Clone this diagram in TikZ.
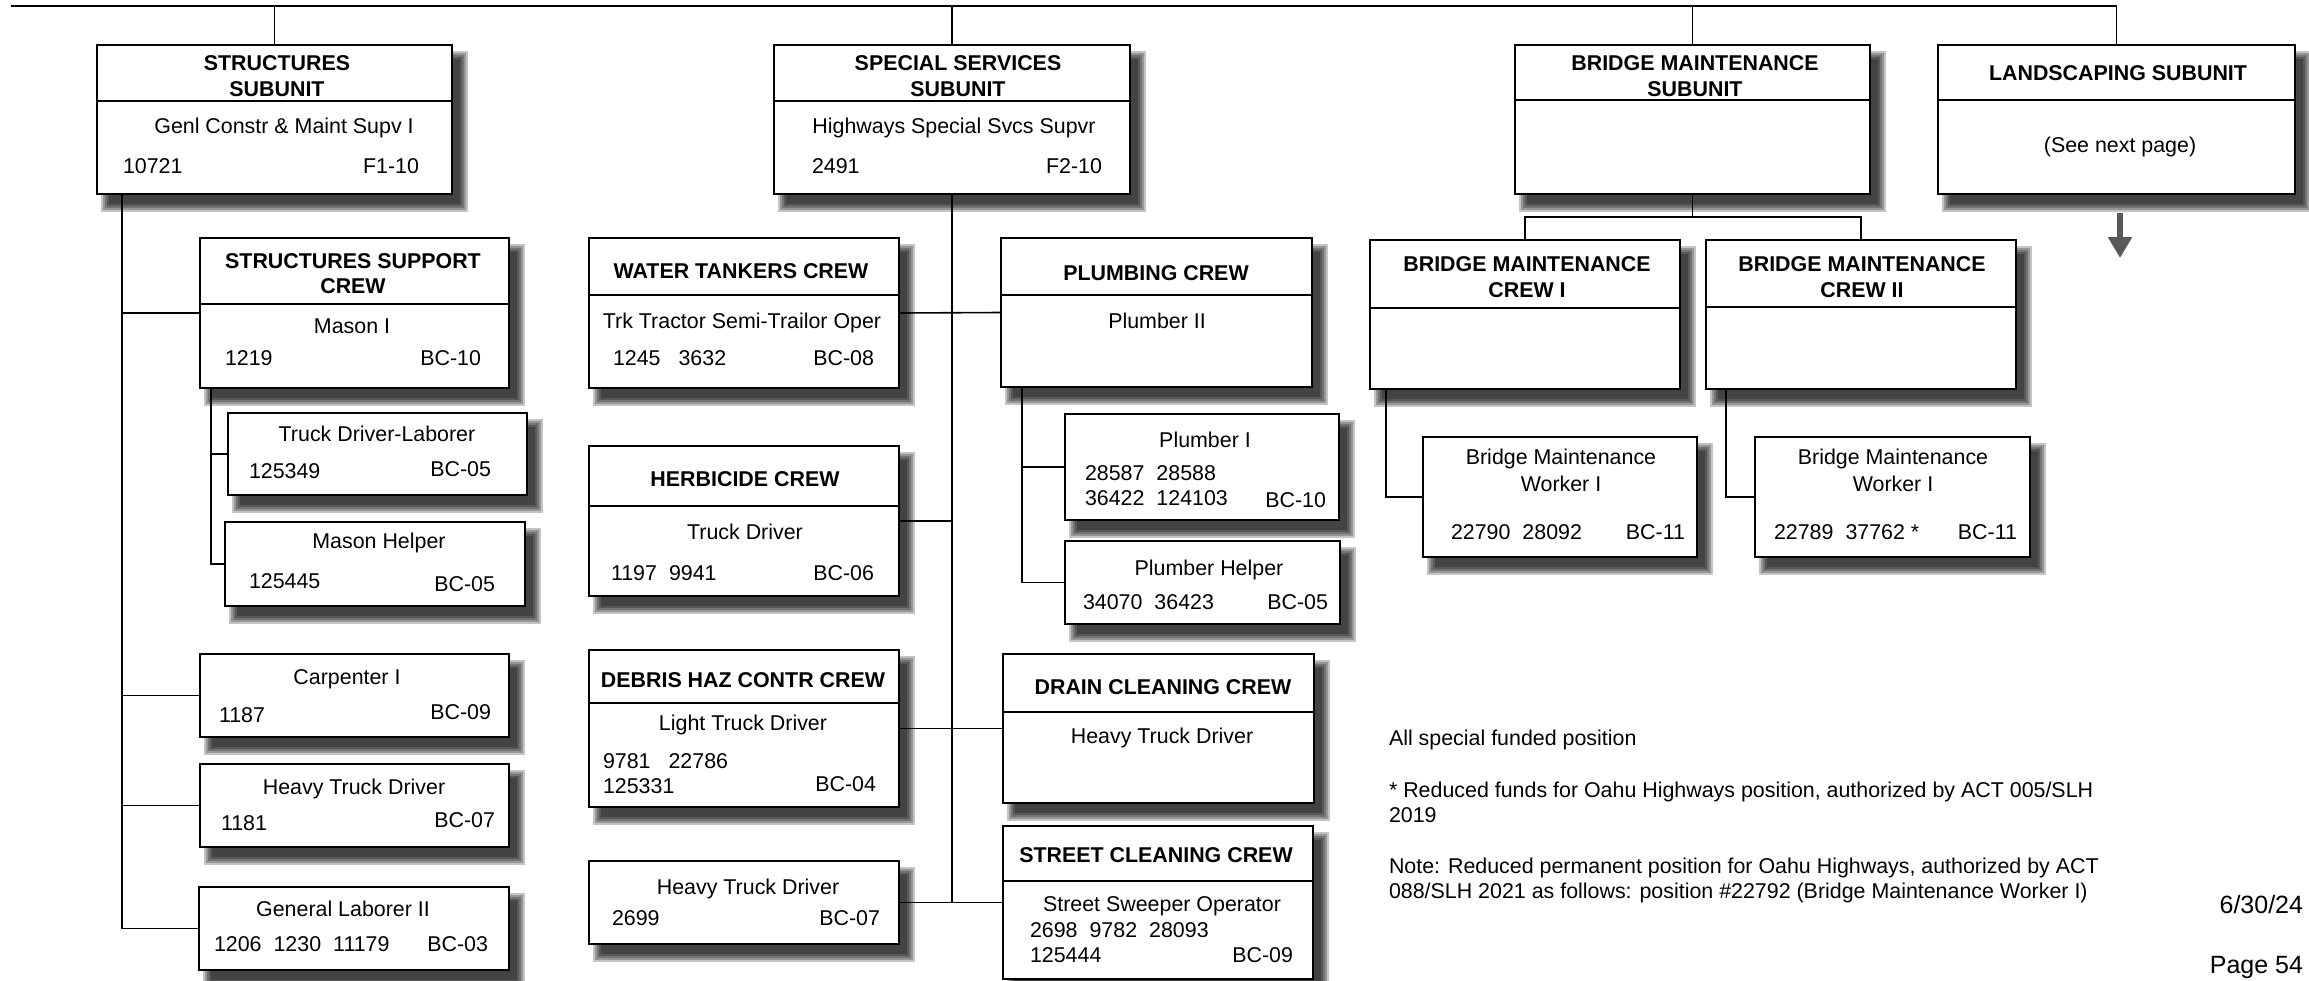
\documentclass[tikz,border=0pt]{standalone}
\usepackage{fontspec}
\setmainfont{Liberation Sans}
\usetikzlibrary{arrows.meta}
\pgfdeclarelayer{bg}
\pgfdeclarelayer{shadow}
\pgfsetlayers{bg,shadow,main}
\definecolor{arrgray}{HTML}{595959}
\tikzset{
 bx/.style={draw=black, line width=2.2pt, fill=white, inner sep=0pt, outer sep=0pt, rectangle},
 conn/.style={draw=black, line width=1.6pt},
 topthick/.style={draw=black, line width=2.6pt},
 divl/.style={draw=black, line width=1.5pt},
 txt/.style={inner sep=0pt, outer sep=0pt, font=\fontsize{21.4pt}{25pt}\selectfont},
 hd/.style={inner sep=0pt, outer sep=0pt, font=\fontsize{21.4pt}{25pt}\selectfont\bfseries},
 big/.style={inner sep=0pt, outer sep=0pt, font=\fontsize{25pt}{30pt}\selectfont},
}
\newcommand\sgap{\hspace{12pt}}
\newcommand\wgap{\hspace{18pt}}
\newcommand\obox[5]{%
 \begin{pgfonlayer}{shadow}
 \foreach \e in {8,6,4,2,0}{\fill[black,opacity=0.23] (#2+12-\e,#3+14-\e) rectangle (#2+#4+8+\e,#3+#5+10+\e);}
 \end{pgfonlayer}
 \node[bx, minimum width=#4pt, minimum height=#5pt, anchor=north west] (#1) at (#2,#3) {};
}
\newcommand\dvd[2]{\draw[divl] ([yshift=-#2pt]#1.north west) -- ([yshift=-#2pt]#1.north east);}
\newcommand\mytc[4]{\node[txt, anchor=base] (#1) at (#2,#3) {#4};}
\newcommand\mytl[4]{\node[txt, anchor=base west] (#1) at (#2,#3) {#4};}
\newcommand\mytr[4]{\node[txt, anchor=base east] (#1) at (#2,#3) {#4};}
\newcommand\myth[4]{\node[hd, anchor=base] (#1) at (#2,#3) {#4};}
\begin{document}
\begin{tikzpicture}[x=1pt, y=-1pt]
\begin{pgfonlayer}{bg}
\fill[white] (0,0) rectangle (2309,980);
\end{pgfonlayer}
\useasboundingbox (0,0) rectangle (2309,980);

% ---------- subunits ----------
\obox{stru}{97}{45}{355}{149} \dvd{stru}{56}
\myth{stru-h1}{277}{70.5}{STRUCTURES}
\myth{stru-h2}{277}{96}{SUBUNIT}
\mytc{stru-t}{284}{133}{Genl Constr \& Maint Supv I}
\mytl{stru-n}{123}{173}{10721}
\mytr{stru-g}{419}{173.5}{F1-10}

\obox{spec}{774}{45}{356}{149} \dvd{spec}{56}
\myth{spec-h1}{958}{70.5}{SPECIAL SERVICES}
\myth{spec-h2}{958}{96}{SUBUNIT}
\mytc{spec-t}{954}{133}{Highways Special Svcs Supvr}
\mytl{spec-n}{812}{173}{2491}
\mytr{spec-g}{1102}{173}{F2-10}

\obox{bsub}{1515}{45}{355}{149} \dvd{bsub}{55}
\myth{bsub-h1}{1695}{70.5}{BRIDGE MAINTENANCE}
\myth{bsub-h2}{1695}{96}{SUBUNIT}

\obox{land}{1938}{45}{357}{149} \dvd{land}{55}
\myth{land-h}{2118}{80.5}{LANDSCAPING SUBUNIT}
\mytc{land-t}{2120}{152}{(See next page)}

% ---------- structures column ----------
\obox{ssc}{200}{238}{309}{150} \dvd{ssc}{66}
\myth{ssc-h1}{353}{268}{STRUCTURES SUPPORT}
\myth{ssc-h2}{353}{293}{CREW}
\mytc{ssc-t}{352}{333}{Mason I}
\mytl{ssc-n}{225}{365}{1219}
\mytr{ssc-g}{481}{365}{BC-10}

\obox{tdl}{228}{413}{299}{82}
\mytc{tdl-t}{377}{441}{Truck Driver-Laborer}
\mytl{tdl-n}{249}{478}{125349}
\mytr{tdl-g}{491}{476.5}{BC-05}

\obox{mh}{225}{522}{300}{84}
\mytc{mh-t}{379}{548}{Mason Helper}
\mytl{mh-n}{249}{588}{125445}
\mytr{mh-g}{495}{591.5}{BC-05}

\obox{carp}{200}{654}{309}{83}
\mytc{carp-t}{347}{684.5}{Carpenter I}
\mytl{carp-n}{219}{722}{1187}
\mytr{carp-g}{491}{719}{BC-09}

\obox{htd1}{200}{764}{309}{83}
\mytc{htd1-t}{354}{794}{Heavy Truck Driver}
\mytl{htd1-n}{221}{830.5}{1181}
\mytr{htd1-g}{495}{827.5}{BC-07}

\obox{gl2}{199}{887}{310}{83}
\mytc{gl2-t}{343}{916.5}{General Laborer II}
\mytl{gl2-n}{214}{951.5}{1206\sgap 1230\sgap 11179}
\mytr{gl2-g}{488}{951.5}{BC-03}

% ---------- special services column ----------
\obox{wtc}{589}{238}{310}{150} \dvd{wtc}{57}
\myth{wtc-h}{741}{278}{WATER TANKERS CREW}
\mytc{wtc-t}{742}{328}{Trk Tractor Semi-Trailor Oper}
\mytl{wtc-n}{613}{365.5}{1245\wgap 3632}
\mytr{wtc-g}{874}{365.5}{BC-08}

\obox{plc}{1001}{238}{311}{149} \dvd{plc}{57}
\myth{plc-h}{1156}{280}{PLUMBING CREW}
\mytc{plc-t}{1157}{328}{Plumber II}

\obox{pl1}{1065}{414}{274}{106}
\mytc{pl1-t}{1205}{447}{Plumber I}
\mytl{pl1-n1}{1085}{480}{28587\sgap 28588}
\mytl{pl1-n2}{1085}{505}{36422\sgap 124103}
\mytr{pl1-g}{1326}{507}{BC-10}

\obox{plh}{1065}{541}{275}{83}
\mytc{plh-t}{1209}{575}{Plumber Helper}
\mytl{plh-n}{1083}{609}{34070\sgap 36423}
\mytr{plh-g}{1328}{609}{BC-05}

\obox{herb}{589}{446}{310}{150} \dvd{herb}{60}
\myth{herb-h}{745}{486}{HERBICIDE CREW}
\mytc{herb-t}{745}{539}{Truck Driver}
\mytl{herb-n}{611}{580}{1197\sgap 9941}
\mytr{herb-g}{874}{580}{BC-06}

\obox{deb}{589}{650}{310}{157} \dvd{deb}{53}
\myth{deb-h}{743}{687}{DEBRIS HAZ CONTR CREW}
\mytc{deb-t}{743}{730}{Light Truck Driver}
\mytl{deb-n1}{603}{768}{9781\wgap 22786}
\mytl{deb-n2}{603}{793}{125331}
\mytr{deb-g}{876}{791}{BC-04}

\obox{htd2}{589}{861}{310}{83}
\mytc{htd2-t}{748}{894}{Heavy Truck Driver}
\mytl{htd2-n}{612}{925}{2699}
\mytr{htd2-g}{880}{925}{BC-07}

\obox{drain}{1003}{654}{311}{149} \dvd{drain}{58}
\myth{drain-h}{1163}{694.5}{DRAIN CLEANING CREW}
\mytc{drain-t}{1162}{743.5}{Heavy Truck Driver}

\obox{street}{1003}{826}{310}{153} \dvd{street}{55}
\myth{street-h}{1156}{862.5}{STREET CLEANING CREW}
\mytc{street-t}{1162}{911}{Street Sweeper Operator}
\mytl{street-n1}{1030}{937}{2698\sgap 9782\sgap 28093}
\mytl{street-n2}{1030}{962}{125444}
\mytr{street-g}{1293}{962}{BC-09}

% ---------- bridge column ----------
\obox{bc1}{1370}{240}{310}{149} \dvd{bc1}{68}
\myth{bc1-h1}{1527}{271}{BRIDGE MAINTENANCE}
\myth{bc1-h2}{1527}{297}{CREW I}

\obox{bc2}{1706}{240}{310}{149} \dvd{bc2}{67}
\myth{bc2-h1}{1862}{271}{BRIDGE MAINTENANCE}
\myth{bc2-h2}{1862}{297}{CREW II}

\obox{bw1}{1423}{437}{274}{120}
\mytc{bw1-t1}{1561}{464}{Bridge Maintenance}
\mytc{bw1-t2}{1561}{491}{Worker I}
\mytl{bw1-n}{1451}{539}{22790\sgap 28092}
\mytr{bw1-g}{1685}{539}{BC-11}

\obox{bw2}{1755}{437}{275}{120}
\mytc{bw2-t1}{1893}{464}{Bridge Maintenance}
\mytc{bw2-t2}{1893}{491}{Worker I}
\mytl{bw2-n}{1774}{539}{22789\sgap 37762 *}
\mytr{bw2-g}{2017}{539}{BC-11}

% ---------- notes ----------
\mytl{note1}{1389}{745}{All special funded position}
\mytl{note2}{1389}{797}{* Reduced funds for Oahu Highways position, authorized by ACT 005/SLH}
\mytl{note3}{1389}{822}{2019}
\mytl{note4}{1389}{873}{Note: Reduced permanent position for Oahu Highways, authorized by ACT}
\mytl{note5}{1389}{898}{088/SLH 2021 as follows: position \#22792 (Bridge Maintenance Worker I)}
\node[big, anchor=base east] (date) at (2303,913) {6/30/24};
\node[big, anchor=base east] (page) at (2303,973) {Page 54};

% ---------- connectors ----------
\coordinate (tl) at (11,6);
\coordinate (tm) at (1692.5,6);
\coordinate (tr) at (2116.5,6);
\draw[topthick] (tl) -- (tm);
\draw[conn] (tm) -- (tr) -- (land.north);
\draw[conn] (stru.north) -- (stru.north |- tl);
\draw[conn] (spec.north) -- (spec.north |- tl);
\draw[conn] (bsub.north) -- (tm);

\coordinate (sx) at (122,0);
\draw[conn] (sx |- stru.south) -- (sx |- gl2.west) -- (gl2.west);
\draw[conn] (sx |- ssc.west) -- (ssc.west);
\draw[conn] (sx |- carp.west) -- (carp.west);
\draw[conn] (sx |- htd1.west) -- (htd1.west);
\coordinate (sx2) at (211,0);
\draw[conn] (sx2 |- ssc.south) -- (sx2 |- mh.west) -- (mh.west);
\draw[conn] (sx2 |- tdl.west) -- (tdl.west);

\draw[conn] (spec.south) -- (spec.south |- htd2.east);
\draw[conn] (wtc.east) -- (plc.west);
\draw[conn] (herb.east) -- (spec.south |- herb.east);
\draw[conn] (deb.east) -- (drain.west);
\draw[conn] (htd2.east) -- (street.west);
\coordinate (px) at (1022,0);
\draw[conn] (px |- plc.south) -- (px |- plh.west) -- (plh.west);
\draw[conn] (px |- pl1.west) -- (pl1.west);

\coordinate (bj) at (1692.5,217);
\draw[conn] (bsub.south) -- (bj);
\draw[conn] (bc1.north) -- (bc1.north |- bj) -- (bc2.north |- bj) -- (bc2.north);
\coordinate (b1x) at (1386,0);
\draw[conn] (b1x |- bc1.south) -- (b1x |- bw1.west) -- (bw1.west);
\coordinate (b2x) at (1726,0);
\draw[conn] (b2x |- bc2.south) -- (b2x |- bw2.west) -- (bw2.west);

\coordinate (arS) at (2120,213);
\coordinate (arE) at (2120,258);
\draw[line width=6pt, draw=arrgray, -{Triangle[width=23pt,length=21pt]}] (arS) -- (arE);
\end{tikzpicture}
\end{document}
